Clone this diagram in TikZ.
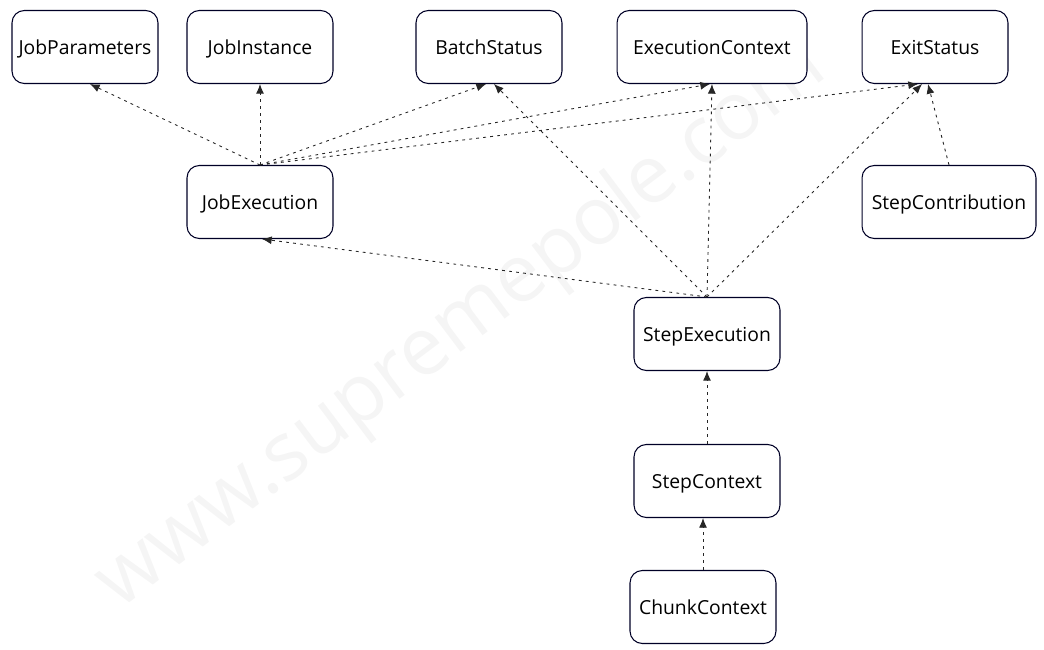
\documentclass[tikz,border=0pt]{standalone}
\usepackage{fontspec}
\setmainfont{Open Sans}
\usepackage{tikz}
\usetikzlibrary{arrows.meta,calc}

\begin{document}
\begin{tikzpicture}[
  x=0.02cm,y=-0.02cm,
  cls/.style ={rectangle,draw=black!85!blue,fill=white,rounded corners=7pt,
               line width=0.6pt,minimum width=2.92cm,minimum height=1.46cm,
               text depth=0pt,font=\fontsize{11}{13}\selectfont,align=center},
  dep/.style ={-{Latex[length=5.5pt,width=4.5pt]},line width=0.5pt,
               dash pattern=on 1.6pt off 2.4pt,color=black!85},
  wmark/.style={font=\fontsize{46}{48}\selectfont,text=black!4,rotate=37}
]
\useasboundingbox (0,0) rectangle (1044,649);
% watermark behind everything
\node[wmark] (wm) at (462,326) {www.supremepole.com};
% top row
\node[cls] (jp)  at (85,47)  {JobParameters};
\node[cls] (ji)  at (260,47) {JobInstance};
\node[cls] (bs)  at (489,47) {BatchStatus};
\node[cls,minimum width=3.8cm] (ec) at (712,47) {ExecutionContext};
\node[cls] (es)  at (935,47) {ExitStatus};
% middle
\node[cls] (je)  at (260,202) {JobExecution};
\node[cls,minimum width=3.48cm] (sco) at (949,202) {StepContribution};
\node[cls] (se)  at (707,334) {StepExecution};
% bottom
\node[cls] (sc)  at (707,481) {StepContext};
\node[cls] (cc)  at (703,607) {ChunkContext};
% JobExecution uses
\foreach \t/\dx in {jp/5,ji/0,bs/-3,ec/-2,es/-17}
  \draw[dep] (je.north) -- ($(\t.south)+(\dx,0)$);
% StepExecution uses
\foreach \t/\dx in {je/2,bs/5,ec/0,es/-13}
  \draw[dep] (se.north) -- ($(\t.south)+(\dx,0)$);
\draw[dep] (sco.north) -- ($(es.south)+(-7,0)$);
\draw[dep] (sc.north) -- (se.south);
\draw[dep] (cc.north) -- ($(sc.south)+(-4,0)$);
\end{tikzpicture}
\end{document}
